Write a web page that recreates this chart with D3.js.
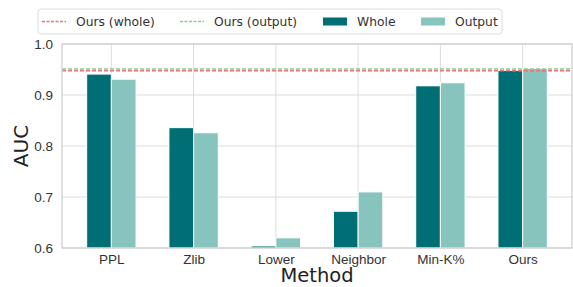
<!DOCTYPE html>
<html>
<head>
<meta charset="utf-8">
<script src="https://cdn.jsdelivr.net/npm/d3@7"></script>
<style>
  body { margin: 0; background: #fff; }
  svg { font-family: "DejaVu Sans", sans-serif; }
</style>
</head>
<body>
<div id="chart"></div>
<script>
var methods = ["PPL", "Zlib", "Lower", "Neighbor", "Min-K%", "Ours"],
    wholeAuc = [0.941, 0.836, 0.604, 0.672, 0.918, 0.948],
    outputAuc = [0.931, 0.826, 0.620, 0.710, 0.924, 0.952],
    oursWhole = 0.9475,
    oursOutput = 0.951,
    yTicks = [0.6, 0.7, 0.8, 0.9, 1.0];

var colWhole = "#006e75",
    colOutput = "#86c4bd",
    colRed = "#e8737b",
    colGreen = "#8dcb8f";

var W = 573, H = 287;
var margin = {top: 44, right: 1, bottom: 39, left: 62},
    width = W - margin.left - margin.right,
    height = H - margin.top - margin.bottom;

var svg = d3.select("#chart").append("svg")
    .attr("width", W)
    .attr("height", H);

var g = svg.append("g")
    .attr("transform", "translate(" + margin.left + "," + margin.top + ")");

var x = d3.scaleLinear()
    .domain([-0.6, methods.length - 0.4])
    .range([0, width]);

var y = d3.scaleLinear()
    .domain([0.6, 1.0])
    .range([height, 0]);

// grid
g.selectAll(".hgrid")
    .data(yTicks)
  .enter().append("line")
    .attr("x1", 0).attr("x2", width)
    .attr("y1", function(d) { return y(d); })
    .attr("y2", function(d) { return y(d); })
    .attr("stroke", "#dcdcdc")
    .attr("stroke-width", 1);

g.selectAll(".vgrid")
    .data(methods)
  .enter().append("line")
    .attr("x1", function(d, i) { return x(i); })
    .attr("x2", function(d, i) { return x(i); })
    .attr("y1", 0).attr("y2", height)
    .attr("stroke", "#dcdcdc")
    .attr("stroke-width", 1);

// bars
var bw = 0.3;
var groups = g.selectAll(".grp")
    .data(methods)
  .enter().append("g");

groups.append("rect")
    .attr("x", function(d, i) { return x(i - bw); })
    .attr("width", x(bw) - x(0))
    .attr("y", function(d, i) { return y(wholeAuc[i]); })
    .attr("height", function(d, i) { return height - y(wholeAuc[i]); })
    .attr("fill", colWhole)
    .attr("stroke", "#fff")
    .attr("stroke-width", 1);

groups.append("rect")
    .attr("x", function(d, i) { return x(i); })
    .attr("width", x(bw) - x(0))
    .attr("y", function(d, i) { return y(outputAuc[i]); })
    .attr("height", function(d, i) { return height - y(outputAuc[i]); })
    .attr("fill", colOutput)
    .attr("stroke", "#fff")
    .attr("stroke-width", 1);

// reference lines
g.append("line")
    .attr("x1", 0).attr("x2", width)
    .attr("y1", y(oursOutput)).attr("y2", y(oursOutput))
    .attr("stroke", colGreen).attr("stroke-width", 1.6)
    .attr("stroke-dasharray", "4,2");

g.append("line")
    .attr("x1", 0).attr("x2", width)
    .attr("y1", y(oursWhole)).attr("y2", y(oursWhole))
    .attr("stroke", colRed).attr("stroke-width", 1.6)
    .attr("stroke-dasharray", "4,2");

// spines
g.append("rect")
    .attr("x", 0).attr("y", 0)
    .attr("width", width).attr("height", height)
    .attr("fill", "none")
    .attr("stroke", "#cccccc")
    .attr("stroke-width", 1.2);

// axes
var yAxis = g.append("g")
    .call(d3.axisLeft(y).tickValues(yTicks).tickFormat(d3.format(".1f")).tickSize(0).tickPadding(9));
yAxis.select(".domain").remove();
yAxis.selectAll("text").attr("font-size", 13.5).attr("fill", "#333");

var xAxis = g.append("g")
    .attr("transform", "translate(0," + height + ")")
    .call(d3.axisBottom(x).tickValues(d3.range(methods.length))
      .tickFormat(function(d) { return methods[d]; }).tickSize(0).tickPadding(6));
xAxis.select(".domain").remove();
xAxis.selectAll("text").attr("font-size", 13.5).attr("fill", "#333");

svg.append("text")
    .attr("transform", "translate(28," + (margin.top + height / 2) + ") rotate(-90)")
    .attr("text-anchor", "middle")
    .attr("font-size", 20)
    .attr("fill", "#222")
    .text("AUC");

svg.append("text")
    .attr("x", margin.left + width / 2)
    .attr("y", 282)
    .attr("text-anchor", "middle")
    .attr("font-size", 19.5)
    .attr("fill", "#222")
    .text("Method");

// legend
var legend = svg.append("g");
legend.append("rect")
    .attr("x", 38).attr("y", 9)
    .attr("width", 464).attr("height", 25)
    .attr("rx", 3)
    .attr("fill", "#fff")
    .attr("stroke", "#dddddd");

var items = [
  {type: "line", color: colRed, label: "Ours (whole)", x: 42},
  {type: "line", color: colGreen, label: "Ours (output)", x: 180},
  {type: "patch", color: colWhole, label: "Whole", x: 323},
  {type: "patch", color: colOutput, label: "Output", x: 421}
];

items.forEach(function(it) {
  if (it.type === "line") {
    legend.append("line")
      .attr("x1", it.x).attr("x2", it.x + 24)
      .attr("y1", 21.5).attr("y2", 21.5)
      .attr("stroke", it.color).attr("stroke-width", 1.3)
      .attr("stroke-dasharray", "3,1.5");
  } else {
    legend.append("rect")
      .attr("x", it.x).attr("y", 17.5)
      .attr("width", 24).attr("height", 8)
      .attr("fill", it.color);
  }
  legend.append("text")
    .attr("x", it.x + 34).attr("y", 26)
    .attr("font-size", 12.3)
    .attr("fill", "#333")
    .text(it.label);
});
</script>
</body>
</html>
